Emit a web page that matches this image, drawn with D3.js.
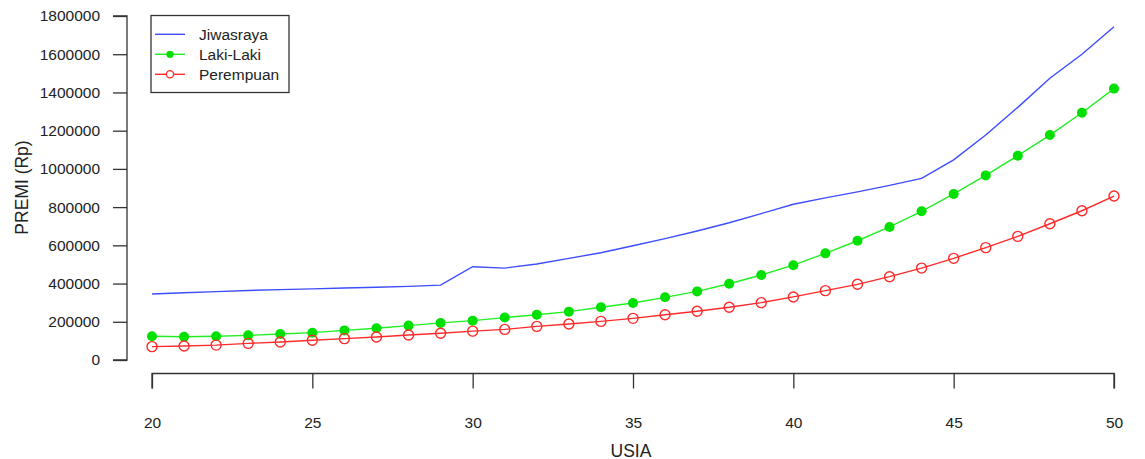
<!DOCTYPE html>
<html>
<head>
<meta charset="utf-8">
<script src="https://cdn.jsdelivr.net/npm/d3@7"></script>
<style>
  body { margin: 0; background: #fff; }
  text { font-family: "Liberation Sans", Arial, sans-serif; fill: #222; }
</style>
</head>
<body>
<svg id="chart" width="1145" height="459"></svg>
<script>
var usia = [20,21,22,23,24,25,26,27,28,29,30,31,32,33,34,35,36,37,38,39,40,41,42,43,44,45,46,47,48,49,50];

var jiwasraya = [345000,352000,358000,364000,368000,372000,377000,381000,385000,392000,
    488000,481000,502000,532000,561000,598000,635000,675000,718000,766000,
    815000,848000,880000,914000,950000,1047000,1177000,1322000,1474000,1600000,1744000];

var lakiLaki = [124000,122000,124000,129000,136000,143000,155000,166000,180000,194000,
    206000,222000,237000,253000,276000,298000,328000,359000,399000,445000,
    496000,558000,624000,696000,778000,869000,966000,1069000,1177000,1294000,1420000];

var perempuan = [70000,73000,78000,87000,94000,103000,112000,120000,131000,140000,
    151000,160000,176000,188000,202000,218000,237000,255000,276000,300000,
    330000,363000,396000,436000,481000,532000,588000,647000,713000,781000,858000];

var xTicks = [20,25,30,35,40,45,50];
var yTicks = [0,200000,400000,600000,800000,1000000,1200000,1400000,1600000,1800000];

var svg = d3.select("#chart");

var x = d3.scaleLinear().domain([20, 50]).range([152, 1114]);
var y = d3.scaleLinear().domain([0, 1800000]).range([360, 16]);

// y axis (R style: line spans ticks only)
var yAxis = d3.axisLeft(y).tickValues(yTicks).tickSize(14).tickPadding(13).tickFormat(d3.format("d"));
var gy = svg.append("g").attr("transform", "translate(127,0)").call(yAxis);
gy.select(".domain").attr("d", "M-14," + y(0) + "H0V" + y(1800000) + "H-14");

// x axis
var xAxis = d3.axisBottom(x).tickValues(xTicks).tickSize(15).tickPadding(28).tickFormat(d3.format("d"));
var gx = svg.append("g").attr("transform", "translate(0,373.5)").call(xAxis);
gx.select(".domain").attr("d", "M" + x(20) + ",15V0H" + x(50) + "V15");

svg.selectAll(".domain, .tick line").attr("stroke", "#333").attr("stroke-width", 1.3);
svg.selectAll(".tick text").attr("font-size", "15.5px").attr("fill", "#222")
    .attr("font-family", "'Liberation Sans', Arial, sans-serif");

// axis titles
svg.append("text").attr("x", 631).attr("y", 456.5).attr("text-anchor", "middle")
    .attr("font-size", "17.5px").text("USIA");
svg.append("text").attr("transform", "translate(28,187.5) rotate(-90)")
    .attr("text-anchor", "middle").attr("font-size", "17.5px").text("PREMI (Rp)");

var line = d3.line().x(function (d, i) { return x(usia[i]); }).y(function (d) { return y(d); });

svg.append("path").datum(jiwasraya).attr("d", line)
    .attr("fill", "none").attr("stroke", "#3d4dff").attr("stroke-width", 1.4);

svg.append("path").datum(lakiLaki).attr("d", line)
    .attr("fill", "none").attr("stroke", "#22ee22").attr("stroke-width", 1.4);
svg.selectAll(".laki").data(lakiLaki).enter().append("circle")
    .attr("cx", function (d, i) { return x(usia[i]); })
    .attr("cy", function (d) { return y(d); })
    .attr("r", 5).attr("fill", "#00e000");

svg.append("path").datum(perempuan).attr("d", line)
    .attr("fill", "none").attr("stroke", "#ff2a2a").attr("stroke-width", 1.4);
svg.selectAll(".perem").data(perempuan).enter().append("circle")
    .attr("cx", function (d, i) { return x(usia[i]); })
    .attr("cy", function (d) { return y(d); })
    .attr("r", 5).attr("fill", "none").attr("stroke", "#ff2a2a").attr("stroke-width", 1.4);

// legend
var legend = svg.append("g");
legend.append("rect").attr("x", 151).attr("y", 15.5).attr("width", 138).attr("height", 77)
    .attr("fill", "#fff").attr("stroke", "#333").attr("stroke-width", 1.3);

var items = [
    { name: "Jiwasraya", color: "#3d4dff", pt: null },
    { name: "Laki-Laki", color: "#22ee22", pt: "fill" },
    { name: "Perempuan", color: "#ff2a2a", pt: "open" }
];
items.forEach(function (it, i) {
    var cy = 34.3 + i * 20;
    legend.append("line").attr("x1", 155).attr("x2", 185).attr("y1", cy).attr("y2", cy)
        .attr("stroke", it.color).attr("stroke-width", 1.4);
    if (it.pt === "fill") {
        legend.append("circle").attr("cx", 170).attr("cy", cy).attr("r", 3.6).attr("fill", "#00e000");
    } else if (it.pt === "open") {
        legend.append("circle").attr("cx", 170).attr("cy", cy).attr("r", 3.6)
            .attr("fill", "#fff").attr("stroke", it.color).attr("stroke-width", 1.3);
    }
    legend.append("text").attr("x", 199).attr("y", cy + 5.5).attr("font-size", "15.5px").text(it.name);
});
</script>
</body>
</html>
